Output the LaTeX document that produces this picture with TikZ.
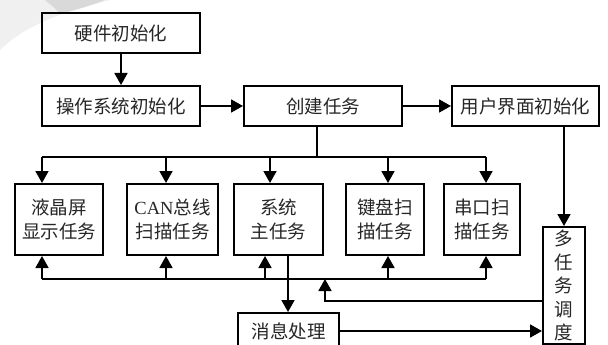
\documentclass[tikz,border=0pt]{standalone}
\usepackage{fontspec}
\setmainfont{Noto Sans CJK SC}
\newfontfamily\latinfont{Liberation Serif}
\usetikzlibrary{arrows.meta}
\begin{document}
\begin{tikzpicture}[x=1pt,y=-1pt,
  box/.style={draw,line width=2pt,inner sep=0pt,align=center,anchor=north west,
    font=\fontsize{18.5}{24}\selectfont,text=black!85},
  ln/.style={line width=1.8pt},
  arr/.style={ln,-{Triangle[width=13pt,length=12pt]}}]
\useasboundingbox (0,0) rectangle (608,345);
% faint shadow in the corner
\fill[gray!12] (0,0) -- (110,0) .. controls (80,8) and (30,20) .. (0,50) -- cycle;
\fill[gray!30] (45,0) -- (105,0) .. controls (90,6) and (75,10) .. (60,14) .. controls (55,8) and (50,4) .. (45,0) -- cycle;
% top boxes
\node[box,minimum width=158pt,minimum height=40pt] (hw) at (41,12) {硬件初始化};
\node[box,minimum width=158pt,minimum height=40pt] (os) at (41,85) {操作系统初始化};
\node[box,minimum width=158pt,minimum height=40pt] (create) at (243,85) {创建任务};
\node[box,minimum width=147pt,minimum height=40pt] (ui) at (451,85) {用户界面初始化};
% task boxes
\node[box,minimum width=88pt,minimum height=71pt] (t1) at (14,183) {液晶屏\\显示任务};
\node[box,minimum width=91pt,minimum height=71pt] (t2) at (126,183) {{\latinfont CAN}总线\\扫描任务};
\node[box,minimum width=89pt,minimum height=71pt] (t3) at (233,183) {系统\\主任务};
\node[box,minimum width=78pt,minimum height=71pt] (t4) at (345,183) {键盘扫\\描任务};
\node[box,minimum width=76pt,minimum height=71pt] (t5) at (443,183) {串口扫\\描任务};
% bottom
\node[box,minimum width=101pt,minimum height=36pt] (msg) at (237,312) {消息处理};
\node[box,minimum width=42pt,inner ysep=3pt,font=\fontsize{18.5}{23.5}\selectfont] (sched) at (542,226) {多\\任\\务\\调\\度};
% connectors top
\draw[arr] (hw.south) -- (os.north);
\draw[arr] (os.east) -- (create.west);
\draw[arr] (create.east) -- (ui.west);
% distribution bus
\coordinate (bt) at (317,157);
\coordinate (d1) at (42,157);
\coordinate (d2) at (166,157);
\coordinate (d3) at (270,157);
\coordinate (d4) at (388,157);
\coordinate (d5) at (486,157);
\draw[ln] (create.south -| bt) -- (bt);
\draw[ln] (d1) -- (d5);
\draw[arr] (d1) -- (t1.north -| d1);
\draw[arr] (d2) -- (t2.north -| d2);
\draw[arr] (d3) -- (t3.north -| d3);
\draw[arr] (d4) -- (t4.north -| d4);
\draw[arr] (d5) -- (t5.north -| d5);
% return bus
\coordinate (u1) at (42,279);
\coordinate (u2) at (166,279);
\coordinate (u3) at (265,279);
\coordinate (u4) at (388,279);
\coordinate (u5) at (486,279);
\draw[ln] (u1) -- (u5);
\draw[arr] (u1) -- (t1.south -| u1);
\draw[arr] (u2) -- (t2.south -| u2);
\draw[arr] (u3) -- (t3.south -| u3);
\draw[arr] (u4) -- (t4.south -| u4);
\draw[arr] (u5) -- (t5.south -| u5);
% main task to message handling
\coordinate (mx) at (288,0);
\draw[arr] (t3.south -| mx) -- (msg.north -| mx);
\draw[arr] (msg.east) -- (sched.west |- msg.east);
% ui to scheduler
\draw[arr] (ui.south -| sched.north) -- (sched.north);
% scheduler back to bus
\coordinate (sb) at (0,301);
\coordinate (sx) at (325,279);
\draw[arr] (sched.west |- sb) -| (sx);
\end{tikzpicture}
\end{document}
